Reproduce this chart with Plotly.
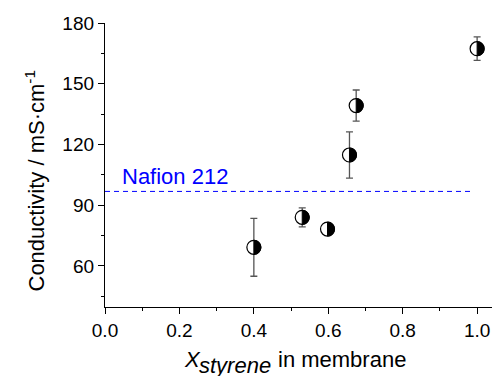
import plotly.graph_objects as go

# ---- data ----
x_styrene = [0.40, 0.53, 0.598, 0.657, 0.675, 1.00]
conductivity = [69.2, 84.0, 78.2, 114.8, 139.2, 167.3]
cond_err = [14.3, 4.7, 0.0, 11.4, 7.7, 5.8]
nafion_x = [0.0, 0.987]
nafion_y = [96.8, 96.8]
nafion_label = "Nafion 212"
x_ticks = [0.0, 0.2, 0.4, 0.6, 0.8, 1.0]
x_ticktext = ["0.0", "0.2", "0.4", "0.6", "0.8", "1.0"]
x_minor = [0.1, 0.3, 0.5, 0.7, 0.9]
y_ticks = [60, 90, 120, 150, 180]
y_ticktext = ["60", "90", "120", "150", "180"]
y_minor = [45, 75, 105, 135, 165]

# ---- layout geometry ----
W, H = 492, 376
ML, MR, MT, MB = 105, 0, 23, 69
X_RANGE = [0, 1.04]
Y_RANGE = [39.7, 180]
FONT = "Liberation Sans, Arial, sans-serif"


def px_x(p):
    return (p - ML) / (W - ML - MR)


def px_y(p):
    return (H - MB - p) / (H - MT - MB)


fig = go.Figure()

# Nafion reference line
fig.add_trace(go.Scatter(
    x=nafion_x, y=nafion_y, mode="lines",
    line=dict(color="#0000ff", width=1, dash="5px,4px"),
    hoverinfo="skip", showlegend=False))

# data points with error bars (white circle, right half filled via shapes)
fig.add_trace(go.Scatter(
    x=x_styrene, y=conductivity, mode="markers",
    marker=dict(symbol="circle", size=14, color="white",
                line=dict(color="black", width=1.2)),
    error_y=dict(type="data", array=cond_err, visible=True,
                 color="#555555", thickness=1.3, width=3.5),
    showlegend=False))

r = 7.0
k = 0.5523 * r
half_path = (f"M 0,{-r} C {k:.3f},{-r} {r},{-k:.3f} {r},0 "
             f"C {r},{k:.3f} {k:.3f},{r} 0,{r} Z")
shapes = []
for xv, yv in zip(x_styrene, conductivity):
    shapes.append(dict(type="path", xref="x", yref="y",
                       xsizemode="pixel", ysizemode="pixel",
                       xanchor=xv, yanchor=yv, path=half_path,
                       fillcolor="black", line=dict(color="black", width=1),
                       layer="above"))

axis_common = dict(
    showline=True, linecolor="black", linewidth=1.3,
    ticks="outside", ticklen=6, tickwidth=1.3, tickcolor="black",
    showgrid=False, zeroline=False,
    tickfont=dict(family=FONT, size=19, color="black"),
)

fig.update_layout(
    width=W, height=H,
    margin=dict(l=ML, r=MR, t=MT, b=MB),
    paper_bgcolor="white", plot_bgcolor="white",
    xaxis=dict(range=X_RANGE, tickmode="array", tickvals=x_ticks,
               ticktext=x_ticktext,
               minor=dict(tickvals=x_minor, ticks="outside", ticklen=3,
                          tickwidth=1.3, tickcolor="black"),
               **axis_common),
    yaxis=dict(range=Y_RANGE, tickmode="array", tickvals=y_ticks,
               ticktext=y_ticktext,
               minor=dict(tickvals=y_minor, ticks="outside", ticklen=3,
                          tickwidth=1.3, tickcolor="black"),
               **axis_common),
    shapes=shapes,
    annotations=[
        dict(text=nafion_label, xref="paper", yref="paper",
             x=px_x(120), y=px_y(176.7), xanchor="left", yanchor="middle",
             showarrow=False, font=dict(family=FONT, size=22, color="#0000ff")),
        dict(text="Conductivity / mS·cm<sup>-1</sup>", xref="paper", yref="paper",
             x=px_x(34), y=px_y(180.5), xanchor="center", yanchor="middle",
             textangle=-90, showarrow=False,
             font=dict(family=FONT, size=22, color="black")),
        dict(text="<i>X</i>", xref="paper", yref="paper",
             x=px_x(182), y=px_y(359.5), xanchor="left", yanchor="middle",
             showarrow=False, font=dict(family=FONT, size=22, color="black")),
        dict(text="<i>styrene</i>", xref="paper", yref="paper",
             x=px_x(197), y=px_y(365.5), xanchor="left", yanchor="middle",
             showarrow=False, font=dict(family=FONT, size=22, color="black")),
        dict(text="in membrane", xref="paper", yref="paper",
             x=px_x(276), y=px_y(359.5), xanchor="left", yanchor="middle",
             showarrow=False, font=dict(family=FONT, size=22, color="black")),
    ],
)

fig.write_html("out.html")
